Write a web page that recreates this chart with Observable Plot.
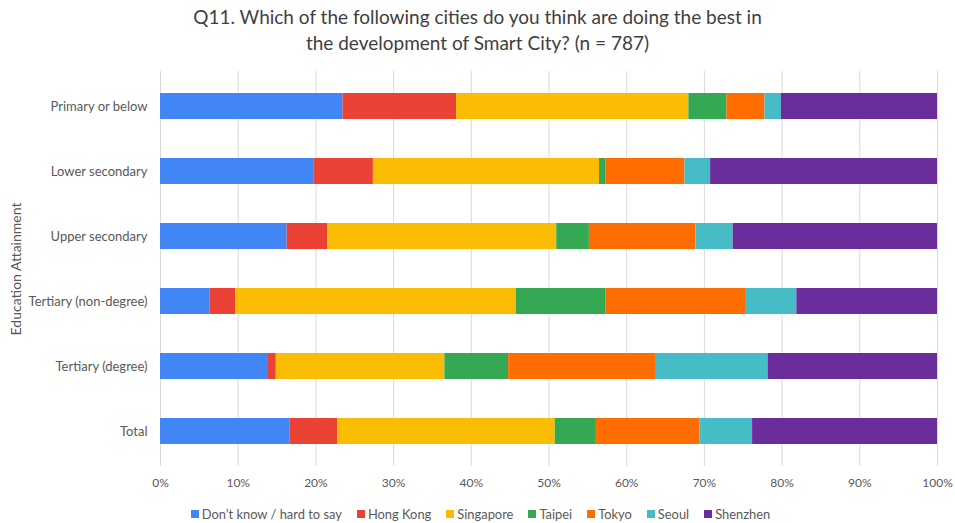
<!DOCTYPE html>
<html>
<head>
<meta charset="utf-8">
<script src="https://cdn.jsdelivr.net/npm/d3@7"></script>
<script src="https://cdn.jsdelivr.net/npm/@observablehq/plot@0.6"></script>
<style>
  html, body { margin: 0; padding: 0; background: #fff; }
  body { width: 955px; height: 523px; overflow: hidden; font-family: Lato, "Open Sans", sans-serif; position: relative; }
  #title { text-align: center; color: #404040; font-size: 19px; line-height: 26px; padding-top: 4px; height: 56px; }
  #chart { height: 440px; }
  #legend { display: flex; justify-content: center; align-items: center; gap: 15px; font-size: 12.9px; color: #595959; height: 27px; padding-left: 6px; }
  .item { display: flex; align-items: center; gap: 3px; }
  .sw { width: 8px; height: 8px; display: inline-block; }
  #ytitle { position: absolute; left: 15px; top: 269px; transform: translate(-50%, -50%) rotate(-90deg); white-space: nowrap; font-size: 14px; color: #595959; }
</style>
</head>
<body>
<div id="title">Q11. Which of the following cities do you think are doing the best in<br>the development of Smart City? (n = 787)</div>
<div id="chart"></div>
<div id="legend"></div>
<div id="ytitle">Education Attainment</div>
<script>
const categories = ["Primary or below", "Lower secondary", "Upper secondary", "Tertiary (non-degree)", "Tertiary (degree)", "Total"];
const cities = ["Don\u2019t know / hard to say", "Hong Kong", "Singapore", "Taipei", "Tokyo", "Seoul", "Shenzhen"];
const colors = ["#4285F4", "#EA4335", "#FBBC04", "#34A853", "#FF6D01", "#46BDC6", "#6B2D9B"];
const dontKnow   = [23.5, 19.8, 16.3, 6.4, 13.9, 16.7];
const hongKong   = [14.6, 7.6, 5.2, 3.3, 1.0, 6.1];
const singapore  = [29.9, 29.1, 29.5, 36.1, 21.7, 28.0];
const taipei     = [4.9, 0.8, 4.2, 11.5, 8.2, 5.3];
const tokyo      = [4.9, 10.2, 13.7, 18.1, 18.9, 13.3];
const seoul      = [2.1, 3.3, 4.8, 6.5, 14.5, 6.8];
const shenzhen   = [20.1, 29.2, 26.3, 18.1, 21.8, 23.8];
const xTicks = [0, 10, 20, 30, 40, 50, 60, 70, 80, 90, 100];

const series = [dontKnow, hongKong, singapore, taipei, tokyo, seoul, shenzhen];
const data = [];
categories.forEach((c, i) => {
  cities.forEach((city, j) => data.push({ category: c, city, value: series[j][i] }));
});

const chart = Plot.plot({
  width: 955,
  height: 440,
  marginLeft: 160,
  marginRight: 18,
  marginTop: 11,
  marginBottom: 34,
  style: { fontFamily: "Lato, 'Open Sans', sans-serif", fontSize: "12px", color: "#595959", background: "#fff" },
  x: { domain: [0, 100], ticks: xTicks, tickFormat: d => d + "%", label: null },
  y: { domain: categories, paddingInner: 0.6, paddingOuter: 0.3, label: null },
  color: { domain: cities, range: colors },
  marks: [
    Plot.gridX(xTicks, { stroke: "#d9d9d9", strokeOpacity: 1 }),
    Plot.barX(data, { x: "value", y: "category", fill: "city", inset: 0 }),
    Plot.axisX({ ticks: xTicks, tickFormat: d => d + "%", tickSize: 0, tickPadding: 12, label: null, fill: "#595959" }),
    Plot.axisY({ tickSize: 0, tickPadding: 13, label: null, fill: "#595959", fontSize: 13 })
  ]
});
document.getElementById("chart").appendChild(chart);

const legend = document.getElementById("legend");
cities.forEach((c, i) => {
  const item = document.createElement("span");
  item.className = "item";
  const sw = document.createElement("span");
  sw.className = "sw";
  sw.style.background = colors[i];
  const t = document.createElement("span");
  t.textContent = c;
  item.appendChild(sw);
  item.appendChild(t);
  legend.appendChild(item);
});
</script>
</body>
</html>
